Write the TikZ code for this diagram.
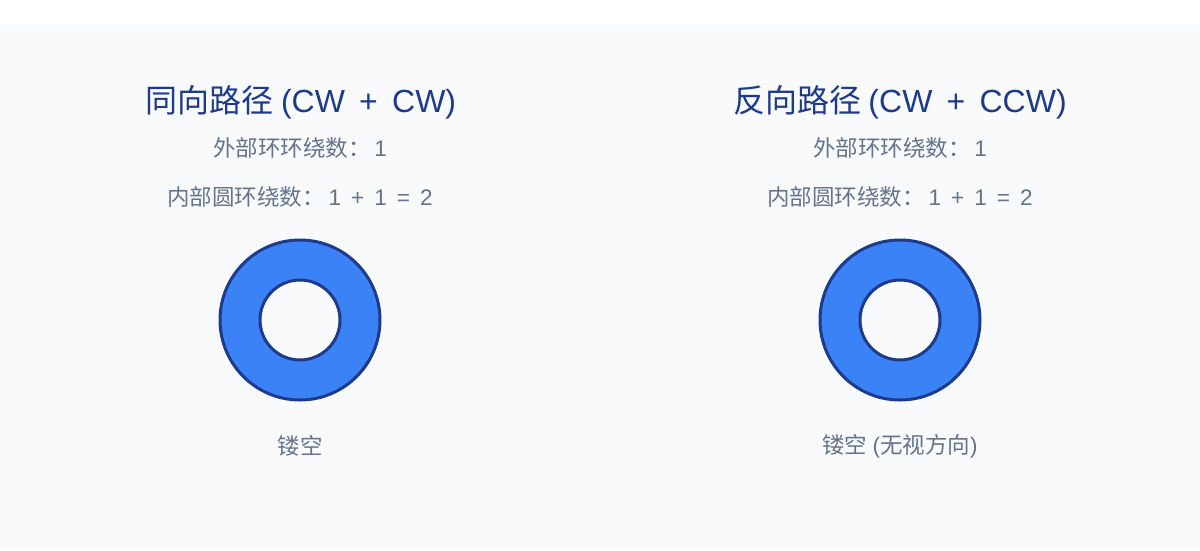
\documentclass[tikz,border=0pt]{standalone}
\usepackage{fontspec}
\setmainfont{Noto Sans CJK SC}
\newfontfamily\latin[WordSpace=1.6]{Liberation Sans}
\definecolor{bgpanel}{HTML}{F8FAFC}
\definecolor{titleblue}{HTML}{1E3A8A}
\definecolor{ringfill}{HTML}{3B82F6}
\definecolor{ringedge}{HTML}{1E3A8A}
\definecolor{notegray}{HTML}{64748B}
\tikzset{
  heading/.style={text=titleblue,font=\fontsize{32}{36}\selectfont,inner sep=0pt},
  note/.style={text=notegray,font=\fontsize{22.5}{26}\selectfont,inner sep=0pt},
  ringouter/.style={circle,draw=ringedge,line width=3pt,fill=ringfill,minimum size=160pt,inner sep=0pt},
  ringhole/.style={circle,draw=ringedge,line width=3pt,fill=bgpanel,minimum size=80pt,inner sep=0pt}
}
\begin{document}
\begin{tikzpicture}[x=1pt,y=-1pt]
\useasboundingbox (0,0) rectangle (1200,550);
\fill[bgpanel] (0,25) rectangle (1200,550);
% same direction
\node[heading] (titleA) at (301,102) {同向路径 {\latin (CW + CW)}};
\node[note] (outerA) at (300,148) {外部环环绕数：\,{\latin 1}};
\node[note] (innerA) at (300,197) {内部圆环绕数：\,{\latin 1 + 1 = 2}};
\node[ringouter] (ringA) at (300,320) {};
\node[ringhole] (holeA) at (ringA.center) {};
\node[note] (capA) at (300,446) {镂空};
% opposite direction
\node[heading] (titleB) at (900,102) {反向路径 {\latin (CW + CCW)}};
\node[note] (outerB) at (900,148) {外部环环绕数：\,{\latin 1}};
\node[note] (innerB) at (900,197) {内部圆环绕数：\,{\latin 1 + 1 = 2}};
\node[ringouter] (ringB) at (900,320) {};
\node[ringhole] (holeB) at (ringB.center) {};
\node[note] (capB) at (900,446) {镂空 {\latin (}无视方向{\latin )}};
\end{tikzpicture}
\end{document}
